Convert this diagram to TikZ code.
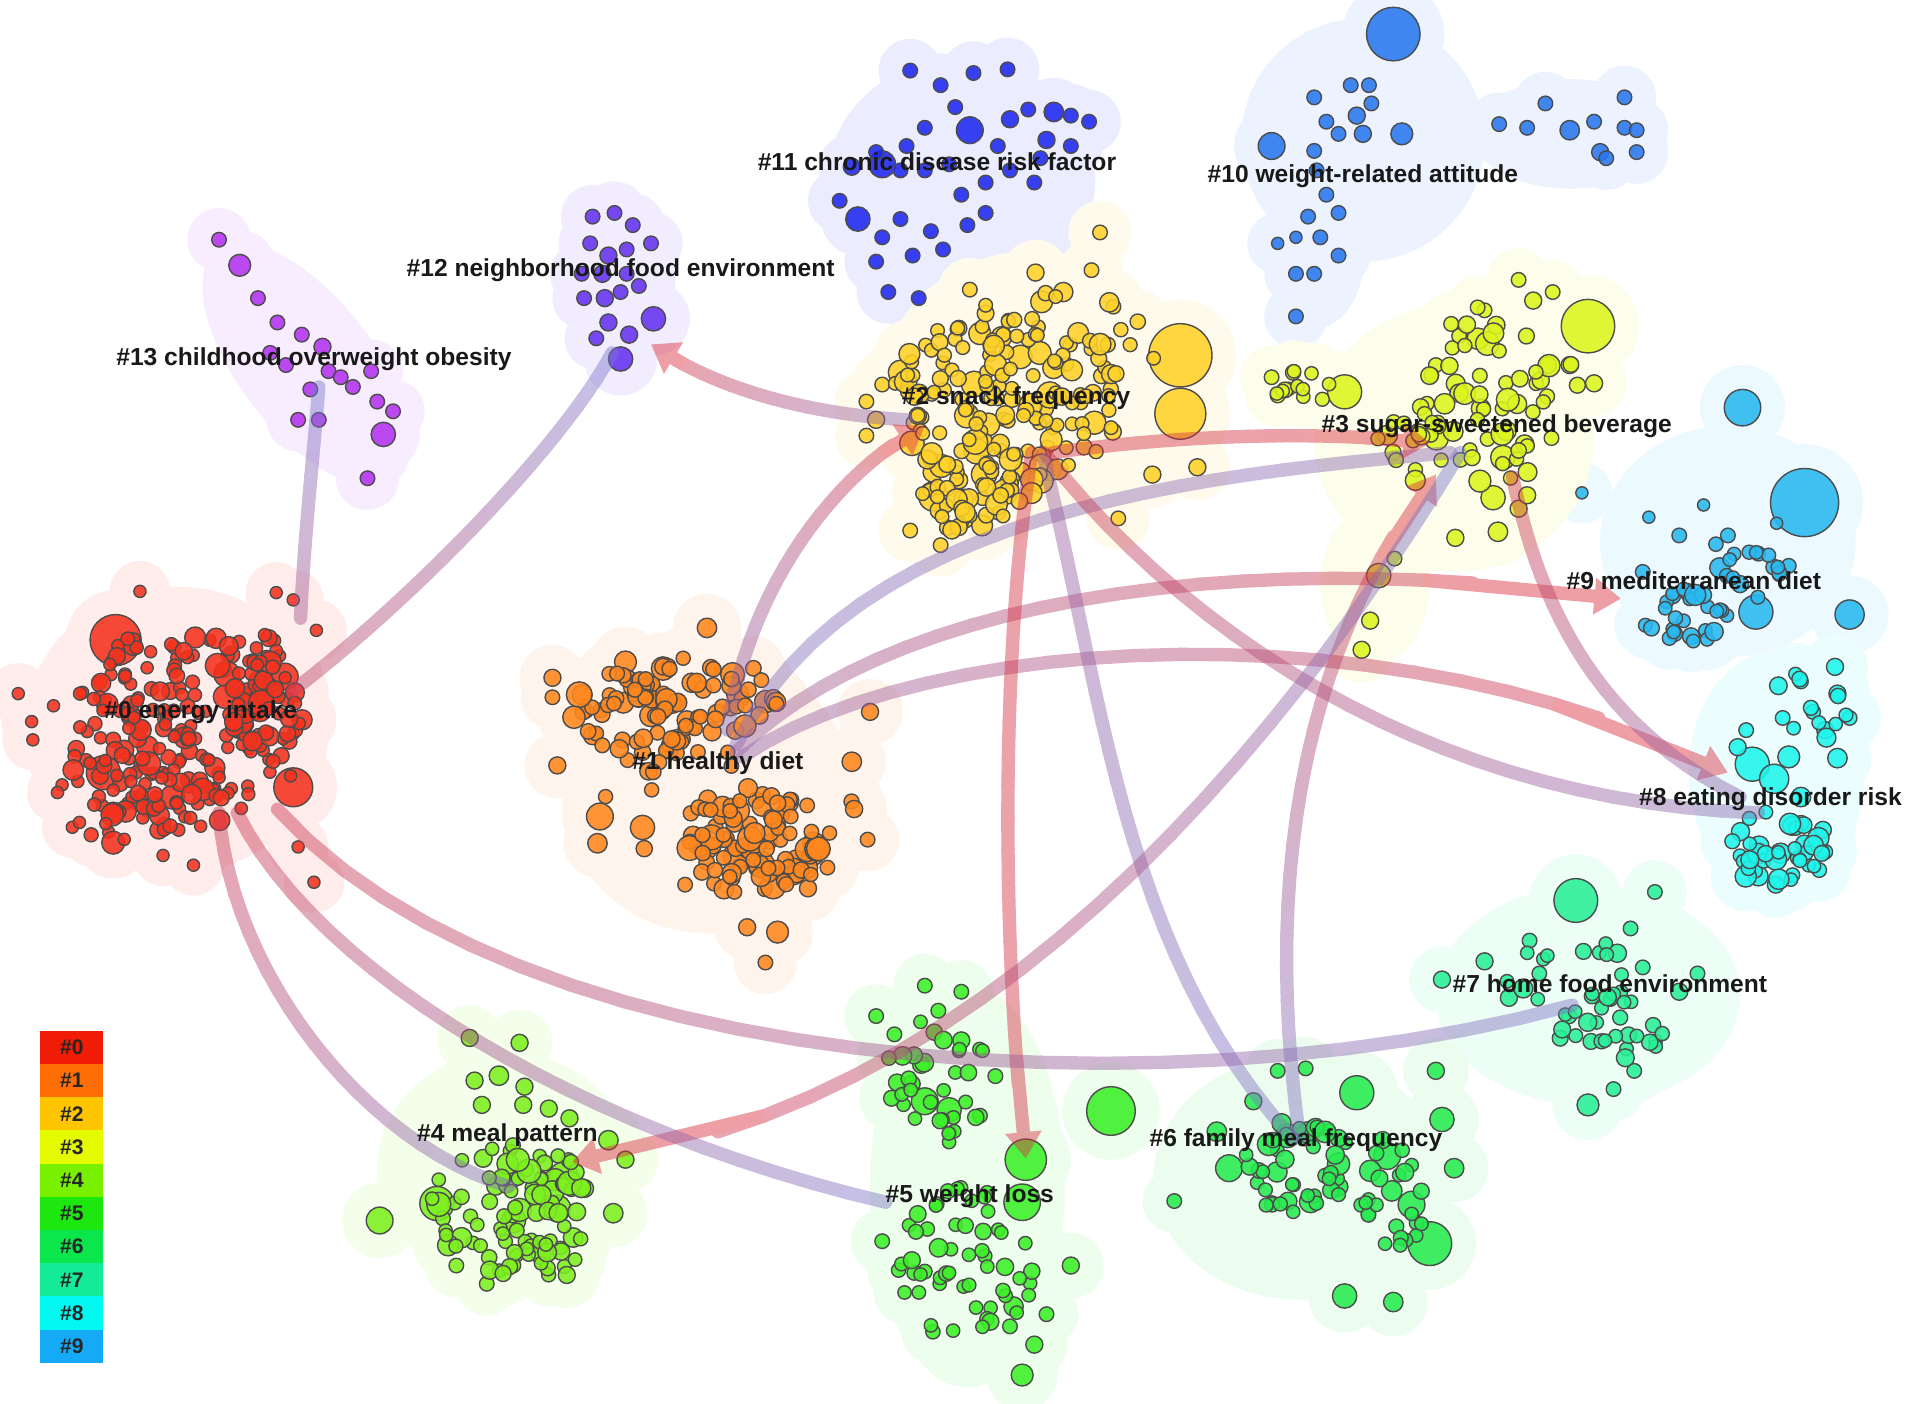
\documentclass[tikz,border=0pt]{standalone}
\usepackage{fontspec}
\setmainfont{Liberation Sans}
\usetikzlibrary{arrows.meta}
\definecolor{c0}{RGB}{245,50,30}
\definecolor{c1}{RGB}{255,135,30}
\definecolor{c2}{RGB}{255,210,40}
\definecolor{c3}{RGB}{220,245,30}
\definecolor{c4}{RGB}{125,240,30}
\definecolor{c5}{RGB}{60,240,40}
\definecolor{c6}{RGB}{40,235,80}
\definecolor{c7}{RGB}{40,240,150}
\definecolor{c8}{RGB}{30,245,235}
\definecolor{c9}{RGB}{40,185,240}
\definecolor{c10}{RGB}{40,120,240}
\definecolor{c11}{RGB}{30,40,240}
\definecolor{c12}{RGB}{100,50,240}
\definecolor{c13}{RGB}{180,50,240}
\definecolor{L0}{RGB}{240,28,5}
\definecolor{L1}{RGB}{255,110,5}
\definecolor{L2}{RGB}{255,198,0}
\definecolor{L3}{RGB}{228,250,0}
\definecolor{L4}{RGB}{120,240,0}
\definecolor{L5}{RGB}{30,230,15}
\definecolor{L6}{RGB}{10,230,75}
\definecolor{L7}{RGB}{20,235,150}
\definecolor{L8}{RGB}{0,248,240}
\definecolor{L9}{RGB}{20,170,245}
\definecolor{bred}{RGB}{225,40,50}
\definecolor{bblue}{RGB}{110,130,225}
\tikzset{
 nodeline/.style={draw=black!70, line width=0.4pt, fill opacity=0.88},
 bandline/.style={line width=3.8pt, line cap=round},
 lab/.style={font=\bfseries\fontsize{7}{8.4}\selectfont, text=black!90, inner sep=0pt},
 legtext/.style={font=\bfseries\fontsize{6}{7}\selectfont, text=black!85, inner sep=0pt},
}
\newif\ifhullpass
\newcommand\nd[4]{%
 \ifhullpass
   \pgfmathsetmacro\hr{#3+20}%
   \fill[#4!9!white] (#1,#2) circle[radius=\hr];
 \else
   \filldraw[nodeline, fill=#4] (#1,#2) circle[radius=#3];
 \fi}
\newcommand\nds[2]{\foreach \xx/\yy/\rr in {#2}{\nd{\xx}{\yy}{\rr}{#1}}}
\newcommand\hl[5]{\ifhullpass\fill[#5!9!white] (#1,#2) ellipse[x radius=#3, y radius=#4];\fi}
\newcommand\rclus[9]{%
  \pgfmathsetseed{#1}%
  \foreach \ii in {1,...,#6}{%
    \pgfmathsetmacro\ra{360*rnd}%
    \pgfmathsetmacro\rd{sqrt(rnd)}%
    \pgfmathsetmacro\rz{rnd}%
    \pgfmathsetmacro\px{#2+#4*\rd*cos(\ra)}%
    \pgfmathsetmacro\py{#3+#5*\rd*sin(\ra)}%
    \pgfmathsetmacro\pr{#7+(#8-#7)*\rz*\rz*\rz*\rz}%
    \nd{\px}{\py}{\pr}{#9}%
  }}
\newcommand\band[7]{%
\begin{scope}[transparency group, opacity=0.45]
\path #1 .. controls #2 and #3 .. #4
  \foreach \k [evaluate=\k as \tq using \k/24] in {0,...,24} { coordinate[pos=\tq] (q\k) };
\foreach \k in {1,...,24}{%
  \pgfmathtruncatemacro\kp{\k-1}%
  \pgfmathtruncatemacro\pc{#5+(#6-#5)*(\k-0.5)/24}%
  \ifnum#7=1
    \ifnum\k>21 \else \draw[bandline, color=bred!\pc!bblue] (q\kp) -- (q\k);\fi
  \else
    \draw[bandline, color=bred!\pc!bblue] (q\kp) -- (q\k);
  \fi
}
\ifnum#7=1 \draw[bandline, line cap=butt, color=bred!#6!bblue, -{Triangle[width=10pt,length=7.5pt]}] (q20) -- (q24);\fi
\end{scope}}
\newcommand\allclusters{%
% #10
\hl{1120}{115}{100}{100}{c10}\hl{1290}{110}{80}{45}{c10}\hl{1080}{215}{40}{55}{c10}
\nds{c10}{1145/28/22,1080/80/6,1090/100/6,1110/70/6,1125/70/6,1127/85/6,1115/95/7,1100/110/6,1120/110/7,1152/110/9,1045/120/11,1080/124/6,1082/140/6,1090/160/6,1075/178/6,1100/175/6,1065/195/5,1085/195/6,1100/210/6,1050/200/5,1065/225/6,1080/225/6,1065/260/6,1232/102/6,1255/105/6,1270/85/6,1290/107/8,1310/100/6,1315/125/7,1320/130/6,1335/80/6,1335/105/6,1345/107/6,1345/125/6}
% #11
\hl{790}{148}{110}{100}{c11}
\nds{c11}{748/58/6,773/70/6,800/60/6,828/57/6,785/88/6,760/105/6,797/107/11,830/98/7,845/90/6,866/92/8,880/95/6,895/100/6,725/135/11,700/137/7,720/125/6,745/120/6,740/140/6,760/140/6,780/135/6,790/160/6,810/150/6,830/140/6,850/150/6,860/115/7,705/180/10,690/165/6,725/195/6,740/180/6,765/190/6,720/215/6,750/210/6,775/205/6,730/240/6,755/245/6,795/185/6,810/175/6,880/120/6,855/130/6,820/120/6}
% #12
\hl{510}{237}{45}{70}{c12}
\nds{c12}{487/178/6,505/175/6,520/185/6,485/200/6,500/210/7,515/205/6,535/200/6,478/225/6,495/225/7,515/225/6,480/245/6,497/245/7,510/240/6,525/235/6,500/265/7,517/275/7,537/262/10,510/295/10,490/278/6}
% #13
\ifhullpass \fill[c13!9!white, rotate around={-52:(252,300)}] (252,300) ellipse[x radius=120, y radius=55];\fi
\nds{c13}{180/197/6,197/218/9,212/245/6,228/265/6,248/275/6,265/285/7,235/300/6,270/305/6,255/320/6,280/310/6,305/305/6,310/330/6,323/338/6,315/357/10,245/345/6,262/345/6,302/393/6,290/318/6,222/290/6}
% #9
\hl{1420}{445}{105}{95}{c9}
\nds{c9}{1432/335/15,1483/413/28,1520/505/12,1443/503/14,1355/425/5,1400/415/5,1380/440/6,1420/440/6,1445/455/6,1350/470/6,1470/465/6,1375/490/6,1460/430/5,1430/480/7,1300/405/5}
\rclus{101}{1385}{507}{35}{24}{25}{5.5}{8}{c9}
\rclus{102}{1420}{470}{45}{30}{15}{5.5}{9}{c9}
% #8
\hl{1460}{635}{72}{100}{c8}
\nds{c8}{1440/628/14,1458/640/12,1470/622/9,1428/614/7,1508/548/7,1510/570/7,1480/560/6,1490/585/6,1500/600/7,1465/590/6,1435/600/6,1520/590/6,1510/623/8,1480/655/8,1498/682/7,1495/715/6,1500/700/6,1445/720/8}
\rclus{91}{1460}{697}{38}{32}{40}{5.5}{9}{c8}
\rclus{92}{1490}{580}{35}{30}{10}{5.5}{8}{c8}
% #7
\hl{1305}{818}{125}{90}{c7}
\nds{c7}{1295/740/18,1305/908/9,1326/895/6,1343/880/6,1185/805/7,1257/773/6,1360/733/6,1340/763/6,1220/790/7,1240/820/7,1265/800/6,1380/815/7,1395/800/6,1350/795/6}
\rclus{81}{1330}{845}{50}{30}{28}{5.5}{8}{c7}
\rclus{82}{1280}{800}{60}{35}{15}{5.5}{8}{c7}
% #6
\hl{1068}{968}{120}{100}{c6}
\nds{c6}{1175/1022/18,1115/898/14,1105/1065/10,1145/1070/8,965/987/6,1000/930/8,1030/905/7,1180/880/7,1185/920/10,1195/960/8,1140/950/11,1160/990/11,1010/960/11,1050/880/6,1073/878/6}
\rclus{71}{1065}{960}{50}{40}{45}{5.5}{10}{c6}
\rclus{72}{1145}{980}{35}{45}{25}{5.5}{9}{c6}
% #5
\hl{795}{975}{80}{165}{c5}
\nds{c5}{913/913/20,843/953/17,840/988/15,760/905/11,780/912/10,757/875/7,720/835/6,735/850/6,760/810/6,790/815/6,790/855/7,840/1130/9,850/1105/7,830/1090/6,860/1080/6,880/1040/7,725/1020/6,760/1045/6}
\rclus{61}{775}{885}{50}{55}{35}{5.5}{9}{c5}
\rclus{62}{795}{1040}{60}{65}{55}{5.5}{8}{c5}
% #4
\hl{415}{960}{105}{95}{c4}
\nds{c4}{359/989/14,463/967/12,458/993/11,422/1003/10,504/997/8,471/1017/8,312/1003/11,386/853/7,427/857/7,390/888/7,410/884/8,431/893/7,396/908/7,430/908/7,451/911/7,468/919/7,500/937/8,514/953/7,400/1055/6,375/1040/6}
\rclus{51}{420}{990}{70}{50}{75}{5.5}{10}{c4}
\rclus{52}{440}{1030}{50}{25}{20}{5.5}{8}{c4}
% #3
\hl{1195}{360}{115}{110}{c3}\hl{1130}{480}{45}{65}{c3}
\nds{c3}{1305/268/22,1105/322/14,1235/376/10,1133/473/10,1126/510/7,1119/534/7,1146/459/6,1196/442/7,1231/437/8,1227/409/10,1248/418/7,1255/407/7,1248/230/6,1260/247/7,1220/255/6,1276/240/6,1290/300/7,1310/315/7,1045/310/6,1050/325/6,1180/300/6,1275/360/6}
\rclus{41}{1228}{325}{70}{75}{60}{5.8}{10}{c3}
\rclus{42}{1070}{318}{30}{14}{12}{5.5}{7}{c3}
\rclus{43}{1165}{365}{35}{30}{18}{5.8}{9}{c3}
% #2
\hl{850}{318}{125}{112}{c2}
\nds{c2}{970/292/26,970/340/21,767/408/12,856/248/9,740/306/10,904/191/6,851/224/7,897/222/6,797/238/6,915/252/6,748/436/6,773/448/6,919/426/6,984/384/7,947/390/7,712/330/6,720/345/7,712/358/6,725/316/6}
\rclus{31}{825}{330}{95}{75}{150}{5.6}{11}{c2}
\rclus{32}{800}{400}{50}{40}{40}{5.6}{10}{c2}
\rclus{33}{860}{290}{90}{55}{30}{5.6}{9}{c2}
% #1
\hl{582}{652}{120}{115}{c1}
\nds{c1}{581/516/8,514/544/9,493/671/11,528/680/10,491/693/8,454/557/7,454/573/6,458/629/7,715/585/7,700/626/8,713/690/6,680/713/6,664/730/7,614/762/7,639/766/9,629/791/6,563/727/6}
\rclus{21}{530}{590}{60}{45}{85}{6}{11}{c1}
\rclus{22}{620}{690}{60}{45}{95}{6}{11}{c1}
\rclus{23}{612}{575}{28}{32}{22}{6}{10}{c1}
\rclus{24}{590}{640}{120}{110}{20}{5.8}{9}{c1}
% #0
\hl{145}{600}{125}{118}{c0}
\nds{c0}{95/526/21,241/647/16,85/635/14,142/655/10,216/567/13,234/556/11,197/597/10,15/570/5,26/593/5,27/608/5,115/486/5,245/696/5,258/725/5,159/711/5,134/703/5,44/580/5,51/645/5,227/487/5,241/493/5,260/518/5}
\rclus{11}{150}{600}{100}{85}{175}{5}{9}{c0}
\rclus{12}{210}{565}{35}{45}{45}{5.2}{11}{c0}
\rclus{13}{110}{650}{75}{45}{50}{5}{10}{c0}
}
\begin{document}
\begin{tikzpicture}[x=0.12168mm,y=-0.12168mm]
\useasboundingbox (0,0) rectangle (1568,1153);
\fill[white] (0,0) rectangle (1568,1153);
\hullpasstrue
\allclusters
\hullpassfalse
\allclusters
% band end points
\coordinate (b1s) at (247,508);  \coordinate (b1e) at (262,318);
\coordinate (b2s) at (240,568);  \coordinate (b2e) at (503,290);
\coordinate (b3s) at (745,345);  \coordinate (b3e) at (535,283);
\coordinate (b4s) at (598,600);  \coordinate (b4e) at (760,350);
\coordinate (b5s) at (605,612);  \coordinate (b5e) at (1192,372);
\coordinate (b6s) at (605,618);  \coordinate (b6e) at (1332,492);
\coordinate (b7s) at (610,622);  \coordinate (b7e) at (1420,635);
\coordinate (b8s) at (858,372);  \coordinate (b8e) at (1445,668);
\coordinate (b9s) at (1243,392); \coordinate (b9e) at (1430,655);
\coordinate (b10s) at (865,372); \coordinate (b10e) at (1175,364);
\coordinate (b11s) at (848,372); \coordinate (b11e) at (843,952);
\coordinate (b12s) at (858,378); \coordinate (b12e) at (1062,935);
\coordinate (b13s) at (1068,935); \coordinate (b13e) at (1180,390);
\coordinate (b14s) at (1200,372); \coordinate (b14e) at (470,955);
\coordinate (b15s) at (228,665); \coordinate (b15e) at (1292,826);
\coordinate (b16s) at (195,668); \coordinate (b16e) at (728,988);
\coordinate (b17s) at (180,668); \coordinate (b17e) at (418,975);
\band{(b1s)}{(250,440)}{(258,370)}{(b1e)}{50}{10}{0}
\band{(b2s)}{(330,500)}{(460,370)}{(b2e)}{75}{10}{0}
\band{(b3s)}{(660,340)}{(585,318)}{(b3e)}{25}{95}{1}
\band{(b4s)}{(615,480)}{(690,385)}{(b4e)}{25}{95}{1}
\band{(b5s)}{(700,420)}{(985,390)}{(b5e)}{20}{30}{0}
\band{(b6s)}{(720,500)}{(1000,445)}{(b6e)}{35}{95}{1}
\band{(b7s)}{(760,520)}{(1150,495)}{(b7e)}{30}{95}{1}
\band{(b8s)}{(990,540)}{(1200,660)}{(b8e)}{85}{25}{0}
\band{(b9s)}{(1262,480)}{(1300,590)}{(b9e)}{90}{30}{0}
\band{(b10s)}{(950,360)}{(1070,352)}{(b10e)}{85}{95}{1}
\band{(b11s)}{(820,550)}{(825,800)}{(b11e)}{90}{90}{1}
\band{(b12s)}{(905,560)}{(920,780)}{(b12e)}{40}{15}{0}
\band{(b13s)}{(1035,700)}{(1080,520)}{(b13e)}{15}{95}{1}
\band{(b14s)}{(1050,620)}{(800,920)}{(b14e)}{10}{95}{1}
\band{(b15s)}{(420,880)}{(950,920)}{(b15e)}{85}{15}{0}
\band{(b16s)}{(260,800)}{(480,930)}{(b16e)}{85}{15}{0}
\band{(b17s)}{(190,800)}{(300,940)}{(b17e)}{85}{20}{0}
% labels
\node[lab] (l0) at (165,585) {\#0 energy intake};
\node[lab] (l1) at (590,627) {\#1 healthy diet};
\node[lab] (l2) at (835,327) {\#2 snack frequency};
\node[lab] (l3) at (1230,350) {\#3 sugar-sweetened beverage};
\node[lab] (l4) at (417,933) {\#4 meal pattern};
\node[lab] (l5) at (797,983) {\#5 weight loss};
\node[lab] (l6) at (1065,937) {\#6 family meal frequency};
\node[lab] (l7) at (1323,808) {\#7 home food environment};
\node[lab] (l8) at (1455,657) {\#8 eating disorder risk};
\node[lab] (l9) at (1392,477) {\#9 mediterranean diet};
\node[lab] (l10) at (1120,145) {\#10 weight-related attitude};
\node[lab] (l11) at (770,133) {\#11 chronic disease risk factor};
\node[lab] (l12) at (510,222) {\#12 neighborhood food environment};
\node[lab] (l13) at (258,295) {\#13 childhood overweight obesity};
% legend
\foreach \i in {0,...,9}{
  \fill[L\i] (33,{847+27.3*\i}) rectangle (85,{847+27.3*(\i+1)});
  \node[legtext] (lg\i) at (59,{847+27.3*(\i+0.5)}) {\#\i};
}
\end{tikzpicture}
\end{document}
